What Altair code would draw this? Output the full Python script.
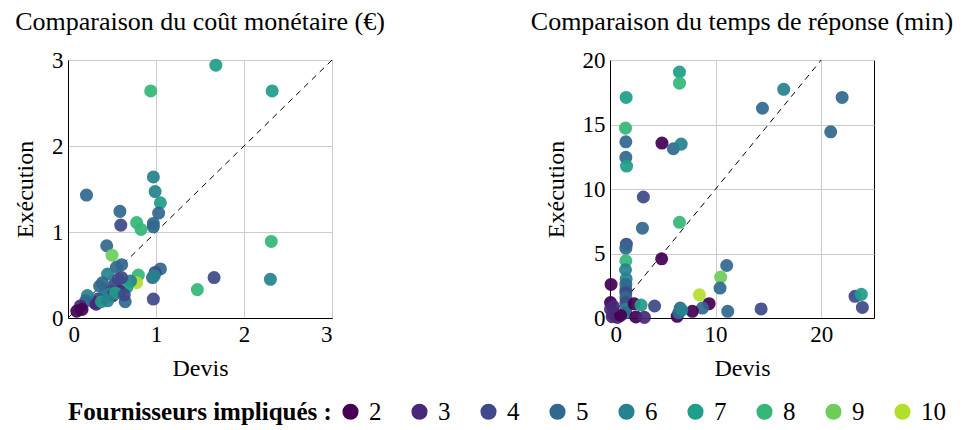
import altair as alt
import pandas as pd

# ---- Data: left panel (monetary cost, €) ----
cost_devis = [1.68, 0.94, 2.32, 0.21, 0.97, 0.99, 1.05, 1.03, 0.59, 0.60, 0.78, 0.83,
              0.97, 0.97, 0.44, 0.50, 2.31, 1.47, 1.66, 2.30, 0.97, 1.05, 0.99, 0.96,
              0.98, 0.80, 0.78, 0.71, 0.67, 0.65, 0.61, 0.55, 0.45, 0.61, 0.57, 0.39,
              0.36, 0.53, 0.43, 0.49, 0.59, 0.47, 0.51, 0.40, 0.34, 0.30, 0.22, 0.20,
              0.14, 0.10, 0.16, 0.32, 0.38, 0.54, 0.64, 0.45]
cost_exec = [2.94, 2.64, 2.64, 1.43, 1.64, 1.47, 1.34, 1.22, 1.24, 1.08, 1.11, 1.03,
             1.10, 1.06, 0.84, 0.73, 0.89, 0.33, 0.47, 0.45, 0.22, 0.57, 0.53, 0.47,
             0.49, 0.50, 0.41, 0.43, 0.36, 0.19, 0.62, 0.59, 0.51, 0.47, 0.45, 0.41,
             0.37, 0.39, 0.33, 0.31, 0.31, 0.28, 0.26, 0.24, 0.22, 0.18, 0.26, 0.20,
             0.14, 0.08, 0.10, 0.16, 0.19, 0.29, 0.27, 0.20]
cost_n = [7, 8, 7, 5, 6, 6, 7, 5, 5, 4, 8, 8,
          5, 5, 5, 9, 8, 8, 4, 6, 4, 5, 4, 5,
          6, 8, 10, 6, 7, 5, 5, 5, 6, 4, 4, 5,
          5, 4, 5, 4, 3, 6, 3, 6, 4, 3, 6, 5,
          3, 2, 2, 3, 7, 7, 4, 6]

# ---- Data: right panel (response time, min) ----
time_devis = [6.58, 6.58, 1.53, 16.45, 21.98, 14.44, 20.9, 1.47, 1.50, 4.92, 6.0, 6.74,
              1.50, 1.57, 3.16, 3.07, 6.58, 1.55, 1.50, 1.50, 1.47, 1.53, 1.50, 1.50,
              1.50, 1.50, 1.50, 1.50, 1.50, 4.89, 11.05, 10.48, 10.42, 8.47, 9.39, 8.75,
              7.8, 6.36, 6.65, 6.5, 6.8, 11.15, 14.31, 23.2, 23.8, 23.9, 0.1, 0.05,
              0.05, 0.35, 0.7, 0.2, 2.29, 2.94, 4.22, 2.45, 3.26, 1.0, 0.3]
time_exec = [19.07, 18.2, 17.1, 17.73, 17.1, 16.26, 14.43, 14.72, 13.66, 13.56, 13.12, 13.48,
             12.45, 11.78, 9.38, 6.96, 7.42, 5.72, 5.41, 4.43, 3.74, 3.04, 2.6, 2.2,
             1.96, 1.58, 1.19, 0.67, 0.4, 4.59, 4.07, 3.17, 2.32, 1.80, 1.11, 0.77,
             0.52, 0.13, 0.77, 0.4, 0.6, 0.52, 0.70, 1.68, 1.83, 0.82, 2.6, 1.2,
             0.7, 0.28, 0.05, 0.1, 1.1, 1.0, 0.93, 0.08, 0.05, 0.2, 0.9]
time_n = [7, 8, 7, 6, 5, 5, 5, 8, 5, 2, 5, 6,
          5, 7, 4, 5, 8, 4, 5, 8, 6, 6, 5, 5,
          4, 5, 4, 6, 5, 2, 5, 9, 5, 10, 2, 5,
          2, 2, 5, 5, 6, 5, 4, 4, 7, 4, 2, 2,
          3, 4, 3, 3, 2, 7, 4, 2, 3, 2, 3]

levels = [2, 3, 4, 5, 6, 7, 8, 9, 10]
palette = ["#440154", "#482878", "#3e4a89", "#31688e", "#26828e",
           "#1f9e89", "#35b779", "#6dcd59", "#b4de2c"]

cost_diag = [0, 3]
time_diag = [0, 20]

FONT = "Liberation Serif"

cost_df = pd.DataFrame({"devis": cost_devis, "exec": cost_exec, "n": cost_n})
time_df = pd.DataFrame({"devis": time_devis, "exec": time_exec, "n": time_n})

color = alt.Color(
    "n:O",
    scale=alt.Scale(domain=levels, range=palette),
    legend=alt.Legend(
        title="Fournisseurs impliqués :",
        orient="bottom",
        direction="horizontal",
        titleOrient="left",
        titleFont=FONT,
        titleFontSize=25,
        titleFontWeight="bold",
        titleColor="black",
        titleAnchor="middle",
        titleBaseline="middle",
        titlePadding=6,
        titleLimit=500,
        labelFont=FONT,
        labelFontSize=25,
        labelColor="black",
        symbolType="circle",
        symbolSize=260,
        symbolOpacity=1,
        symbolStrokeWidth=0,
        labelOffset=6,
        columnPadding=25,
        offset=18,
    ),
)

W = 264


def panel(df, diag, xmax, ymax, xticks, yticks, title):
    x = alt.X("devis:Q", scale=alt.Scale(domain=[0, xmax], nice=False),
              axis=alt.Axis(values=xticks, title="Devis", format="d"))
    y = alt.Y("exec:Q", scale=alt.Scale(domain=[0, ymax], nice=False),
              axis=alt.Axis(values=yticks, title="Exécution", format="d"))
    diag_df = pd.DataFrame({"devis": diag, "exec": diag})
    line = alt.Chart(diag_df).mark_line(
        color="black", strokeDash=[6, 5], strokeWidth=1
    ).encode(x=x, y=y)
    pts = alt.Chart(df).mark_circle(size=170, opacity=0.93).encode(
        x=x, y=y, color=color
    )
    return alt.layer(line, pts).properties(
        width=W, height=258,
        title=alt.TitleParams(title, font=FONT, fontSize=26, fontWeight="normal",
                              color="black", anchor="middle", offset=14),
    )


left = panel(cost_df, cost_diag, 3, 3, [0, 1, 2, 3], [0, 1, 2, 3],
             "Comparaison du coût monétaire (€)")
right = panel(time_df, time_diag, 25, 20, [0, 10, 20], [0, 5, 10, 15, 20],
              "Comparaison du temps de réponse (min)")

chart = alt.hconcat(left, right, spacing=278, bounds="flush").properties(
    padding={"left": 5, "top": 0, "right": 0, "bottom": 0}
).configure_axis(
    grid=True,
    gridColor="#cccccc",
    gridWidth=1,
    domainColor="black",
    domainWidth=1,
    ticks=False,
    labelFont=FONT,
    labelFontSize=23,
    labelColor="black",
    labelPadding=5,
    titleFont=FONT,
    titleFontSize=24,
    titleFontWeight="normal",
    titleColor="black",
).configure_axisX(
    titlePadding=10,
).configure_axisY(
    titlePadding=14,
).configure_view(
    stroke="black",
    strokeWidth=1,
)

chart.save("out.html", embed_options={"renderer": "svg", "actions": False})
